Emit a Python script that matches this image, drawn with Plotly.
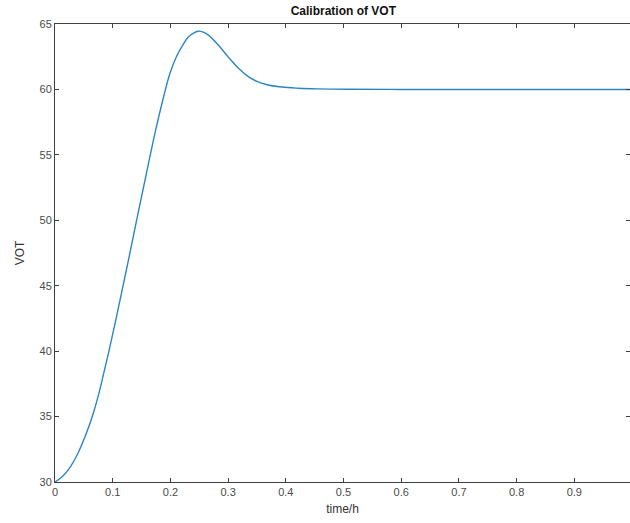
import plotly.graph_objects as go

# time (h) and VOT values
time_h = [0.000, 0.012, 0.023, 0.040, 0.055, 0.066, 0.078, 0.087, 0.094, 0.104,
          0.127, 0.144, 0.159, 0.173, 0.188, 0.199, 0.211, 0.223, 0.231, 0.240,
          0.248, 0.257, 0.266, 0.283, 0.300, 0.318, 0.335, 0.350, 0.366, 0.393,
          0.422, 0.454, 0.510, 0.600, 0.700, 0.800, 0.900, 1.000]
vot = [30.00, 30.38, 30.92, 32.22, 33.80, 35.20, 37.10, 38.80, 40.10, 42.10,
       46.90, 50.55, 53.70, 56.60, 59.40, 61.20, 62.55, 63.50, 64.00, 64.30,
       64.45, 64.38, 64.15, 63.39, 62.49, 61.62, 60.98, 60.62, 60.38, 60.18,
       60.09, 60.04, 60.01, 60.00, 60.00, 60.00, 60.00, 60.00]

x_ticks = [0, 0.1, 0.2, 0.3, 0.4, 0.5, 0.6, 0.7, 0.8, 0.9]
x_tick_text = ["0", "0.1", "0.2", "0.3", "0.4", "0.5", "0.6", "0.7", "0.8", "0.9"]
y_ticks = [30, 35, 40, 45, 50, 55, 60, 65]

FONT = "Liberation Sans, Arial, Helvetica, sans-serif"
AX = "#404040"
TXT = "#4a4a4a"

fig = go.Figure()
fig.add_trace(go.Scatter(x=time_h, y=vot, mode="lines",
                         line=dict(color="#2a86c3", width=1.4, shape="spline", smoothing=1.0),
                         hoverinfo="skip", showlegend=False))

axis_common = dict(showgrid=False, zeroline=False, showline=True, linecolor=AX, linewidth=1,
                   mirror="ticks", ticks="inside", ticklen=4, tickcolor=AX, tickwidth=1,
                   tickfont=dict(family=FONT, size=11, color=TXT))

fig.update_layout(
    width=630, height=523,
    margin=dict(l=55, r=0, t=24, b=41),
    paper_bgcolor="white", plot_bgcolor="white",
    font=dict(family=FONT),
    title=dict(text="<b>Calibration of VOT</b>", x=0.545, xanchor="center",
               y=1 - 11 / 523, yanchor="middle",
               font=dict(family=FONT, size=12, color="#111111")),
    xaxis=dict(range=[0, 0.9965], tickvals=x_ticks, ticktext=x_tick_text,
               title=dict(text="time/h", standoff=7, font=dict(family=FONT, size=12, color="#333333")),
               **axis_common),
    yaxis=dict(range=[30, 65], tickvals=y_ticks,
               title=dict(text="VOT", standoff=12, font=dict(family=FONT, size=12, color="#333333")),
               **axis_common),
)

fig.write_html("out.html")
